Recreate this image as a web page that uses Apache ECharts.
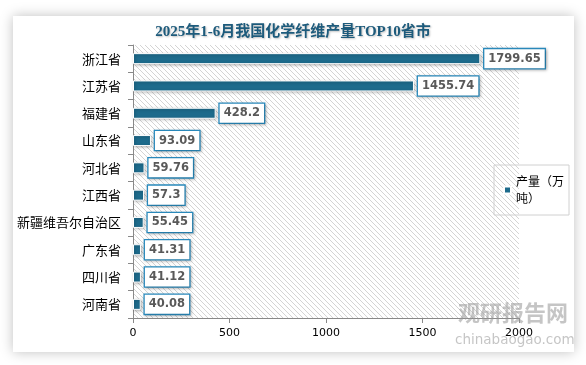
<!DOCTYPE html>
<html><head><meta charset="utf-8">
<script src="https://cdn.jsdelivr.net/npm/echarts@6/dist/echarts.min.js"></script>
<style>html,body{margin:0;padding:0;background:#fff}#c{width:586px;height:365px}</style>
</head><body><div id="c"></div>
<script>
const titleText = '2025年1-6月我国化学纤维产量TOP10省市';
const categories = ['浙江省','江苏省','福建省','山东省','河北省','江西省','新疆维吾尔自治区','广东省','四川省','河南省'];
const seriesName = '产量（万吨）';
const values = [1799.65,1455.74,428.2,93.09,59.76,57.3,55.45,41.31,41.12,40.08];
const xTicks = [0,500,1000,1500,2000];

const pc = document.createElement('canvas');
pc.width = 5; pc.height = 5;
const g = pc.getContext('2d');
g.fillStyle = '#ffffff'; g.fillRect(0,0,5,5);
g.strokeStyle = '#d4d4d4'; g.lineWidth = 1;
g.beginPath(); g.moveTo(-1,-1); g.lineTo(6,6); g.stroke();
g.beginPath(); g.moveTo(-1,4); g.lineTo(1,6); g.stroke();
g.beginPath(); g.moveTo(4,-1); g.lineTo(6,1); g.stroke();

const chart = echarts.init(document.getElementById('c'));
chart.setOption({
  backgroundColor: '#fff',
  animation: false,
  graphic: [
    {type:'rect', shape:{x:13,y:16,width:561,height:336}, style:{fill:'#fff', shadowBlur:12, shadowColor:'rgba(0,0,0,0.25)', shadowOffsetX:0, shadowOffsetY:0}, z:-10, silent:true},
    {type:'text', left:458, top:302, style:{text:'观研报告网', fill:'rgba(150,150,150,0.55)', font:'bold 22px "Noto Sans CJK SC"'}, z:100},
    {type:'text', left:455, top:333, style:{text:'chinabaogao.com', fill:'rgba(150,150,150,0.55)', font:'13.5px "DejaVu Sans"'}, z:100}
  ],
  title: {
    text: titleText, left: 'center', top: 20,
    textStyle: {fontFamily:'"Liberation Serif","Noto Sans CJK SC"', fontSize:15, fontWeight:'bold', color:'#1d5b7c', textShadowColor:'rgba(0,0,0,0.25)', textShadowBlur:2, textShadowOffsetX:1, textShadowOffsetY:1}
  },
  legend: {
    orient:'vertical', left:494, top:165,
    borderColor:'#d0d0d0', borderWidth:1, padding:[8,5,8,9],
    itemWidth:7, itemHeight:7, icon:'rect', itemGap:3,
    formatter: () => '产量（万\n吨）',
    textStyle: {fontSize:12, color:'#000', fontFamily:'"Noto Sans CJK SC"', lineHeight:17}
  },
  grid: {left:133, right:67, top:45, bottom:47, show:true, borderWidth:0, backgroundColor:{image:pc, repeat:'repeat'}},
  xAxis: {
    type:'value', min:0, max:2000, interval:500,
    axisLine:{show:true, lineStyle:{color:'#898989'}},
    axisTick:{show:true, length:5, lineStyle:{color:'#898989'}},
    splitLine:{show:false},
    axisLabel:{color:'#000', fontSize:11, margin:10, fontFamily:'"DejaVu Sans"', formatter: v => xTicks.includes(v) ? String(v) : ''}
  },
  yAxis: {
    type:'category', data:categories, inverse:true,
    axisLine:{show:true, lineStyle:{color:'#898989'}},
    axisTick:{show:true, length:5, lineStyle:{color:'#898989'}},
    axisLabel:{color:'#000', fontSize:13, margin:12, fontFamily:'"Noto Sans CJK SC"'}
  },
  series: [{
    name: seriesName, type:'bar', data: values, barWidth: 11,
    itemStyle: {color:'#1d6b8c', borderColor:'#fff', borderWidth:1, shadowColor:'rgba(0,0,0,0.3)', shadowBlur:3, shadowOffsetX:1, shadowOffsetY:1},
    label: {
      show:true, position:'right', distance:4,
      color:'#595959', fontSize:11.5, fontWeight:'bold', fontFamily:'"DejaVu Sans"',
      backgroundColor:'#fff', borderColor:'#2a8cbf', borderWidth:1.3, padding:[4,4,3,4],
      shadowColor:'rgba(0,0,0,0.25)', shadowBlur:3, shadowOffsetX:1, shadowOffsetY:1
    }
  }]
});
</script></body></html>
